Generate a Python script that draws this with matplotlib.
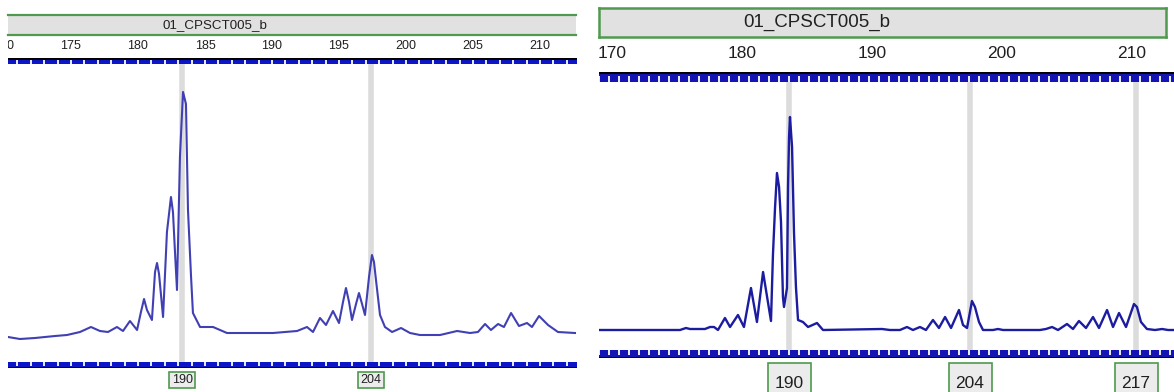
import matplotlib
matplotlib.use('Agg')
import matplotlib.pyplot as plt
import numpy as np
from matplotlib.patches import Rectangle

plt.rcParams['font.family'] = ['Liberation Sans', 'DejaVu Sans']

# ---------------- data ----------------
title = "01_CPSCT005_b"

left_ticks = [170, 175, 180, 185, 190, 195, 200, 205, 210]
right_ticks = [170, 180, 190, 200, 210]

left_size = [170.30, 171.19, 172.31, 173.81, 174.70, 175.67, 176.49, 177.16, 177.76, 178.43,
             178.88, 179.40, 179.93, 180.22, 180.45, 180.67, 181.04, 181.27, 181.42, 181.57,
             181.87, 182.16, 182.46, 182.61, 182.76, 182.91, 183.13, 183.36, 183.58, 183.73,
             183.96, 184.10, 184.63, 185.60, 186.64, 188.36, 190.07, 191.87, 192.61, 193.06,
             193.58, 194.03, 194.55, 195.00, 195.30, 195.52, 195.75, 195.97, 196.27, 196.49,
             196.72, 196.94, 197.24, 197.46, 197.61, 197.76, 198.06, 198.43, 198.96, 199.63,
             200.30, 201.04, 202.54, 203.81, 204.78, 205.37, 205.90, 206.34, 206.87, 207.31,
             207.84, 208.43, 209.03, 209.40, 209.93, 210.60, 211.34, 212.61]
left_rfu = [25, 23, 24, 26, 27, 30, 35, 31, 30, 35,
            31, 41, 32, 50, 63, 52, 42, 90, 99, 88,
            45, 130, 165, 150, 110, 72, 205, 270, 258, 152,
            85, 49, 35, 35, 29, 29, 29, 31, 35, 30,
            44, 37, 51, 39, 60, 74, 60, 42, 58, 69,
            58, 47, 85, 107, 100, 82, 47, 35, 30, 34,
            29, 27, 27, 31, 29, 30, 38, 32, 38, 35,
            49, 36, 39, 35, 46, 37, 30, 29]
left_bins = [183.32, 197.39]
left_bin_labels = ["190", "204"]

right_size = [168.92, 175.23, 175.69, 176.00, 177.15, 177.54, 177.85, 178.15, 178.69, 179.08,
              179.69, 180.15, 180.69, 181.15, 181.62, 182.23, 182.38, 182.54, 182.69, 182.85,
              183.00, 183.15, 183.23, 183.46, 183.54, 183.62, 183.69, 183.85, 184.00, 184.15,
              184.31, 184.69, 185.08, 185.77, 186.23, 190.77, 191.38, 192.15, 192.69, 193.15,
              193.69, 194.15, 194.69, 195.15, 195.62, 196.08, 196.69, 197.00, 197.31, 197.69,
              197.92, 198.23, 198.54, 199.31, 199.69, 200.08, 202.92, 203.38, 203.85, 204.31,
              205.00, 205.46, 205.92, 206.46, 207.00, 207.46, 208.08, 208.54, 209.00, 209.54,
              210.15, 210.38, 210.69, 211.15, 211.77, 212.31, 212.77, 213.23]
right_rfu = [20, 20, 22, 21, 21, 23, 23, 20, 32, 23,
             35, 23, 62, 28, 78, 29, 95, 142, 177, 163,
             128, 53, 43, 62, 163, 213, 233, 203, 117, 63,
             30, 28, 23, 27, 20, 21, 20, 20, 23, 20,
             23, 20, 30, 22, 33, 22, 40, 25, 22, 49,
             43, 28, 20, 20, 21, 20, 20, 21, 23, 20,
             26, 21, 29, 22, 33, 22, 40, 23, 37, 23,
             46, 43, 28, 21, 20, 21, 20, 20]
right_bins = [183.62, 197.54, 210.31]
right_bin_labels = ["190", "204", "217"]

# ---------------- layout helpers ----------------
W, H = 1174, 392
fig = plt.figure(figsize=(W / 100, H / 100), dpi=100)
fig.patch.set_facecolor('white')

GREEN = '#4f9a4f'
GRAYBOX = '#e1e1e1'


def px_axes(x0, y0, x1, y1):
    ax = fig.add_axes([x0 / W, 1 - y1 / H, (x1 - x0) / W, (y1 - y0) / H])
    ax.set_xticks([])
    ax.set_yticks([])
    for s in ax.spines.values():
        s.set_visible(False)
    return ax


def panel(cfg):
    ref, ppu = cfg['ref'], cfg['ppu']
    px0, px1 = cfg['px']

    def xl(a, b):
        return (170 + (a - ref) / ppu, 170 + (b - ref) / ppu)

    # title box
    tx0, ty0, tx1, ty1 = cfg['title_box']
    at = px_axes(tx0, ty0, tx1, ty1)
    at.set_facecolor(GRAYBOX)
    for name, s in at.spines.items():
        if name in cfg['title_spines']:
            s.set_visible(True)
            s.set_color(GREEN)
            s.set_linewidth(cfg['title_lw'])
    at.text((cfg['title_x'] - tx0) / (tx1 - tx0), 0.5, title, transform=at.transAxes,
            ha='center', va='center', fontsize=cfg['title_fs'], color='#202020')

    # size labels row (clipped at the panel edge, as in the reference)
    ly0, ly1 = cfg['label_row']
    al = px_axes(px0, ly0, px1, ly1)
    al.patch.set_alpha(0)
    al.set_xlim(*xl(px0, px1))
    al.set_ylim(0, 1)
    for v in cfg['ticks']:
        t = al.text(v, 0.5, str(v), ha='center', va='center', fontsize=cfg['tick_fs'],
                    color='#202020', clip_on=True)
        t.set_clip_box(al.bbox)

    # blue bin bars
    for (by0, by1), top in ((cfg['top_bar'], True), (cfg['bot_bar'], False)):
        ab = px_axes(px0, by0, px1, by1)
        ab.set_facecolor(cfg['bar_color'])
        ab.set_xlim(*xl(px0, px1))
        ab.set_ylim(0, 1)
        lo, hi = xl(px0, px1)
        marks = np.arange(np.floor(lo), hi, cfg['mark_step'])
        if top:
            ab.vlines(marks, 0.0, 0.6, color='white', lw=1.3)
            ab.axhline(1, color='black', lw=2.2)
        else:
            ab.vlines(marks, 0.4, 1.0, color='white', lw=1.3)
            ab.axhline(0, color='black', lw=2.2)

    # trace
    py0, py1 = cfg['plot']
    ap = px_axes(px0, py0, px1, py1)
    ap.patch.set_alpha(0)
    ap.set_xlim(*xl(px0, px1))
    ap.set_ylim(0, py1 - py0)
    for b in cfg['bins']:
        ap.axvline(b, color='#dcdcdc', lw=cfg['bin_lw'], zorder=0)
    ap.plot(cfg['sizes'], cfg['rfu'], color=cfg['line_color'], lw=cfg['lw'], zorder=2)

    # allele label boxes
    ry0, ry1 = cfg['box_row']
    ar = px_axes(px0, ry0, px1, ry1)
    ar.patch.set_alpha(0)
    ar.set_xlim(*xl(px0, px1))
    ar.set_ylim(0, 1)
    bw = cfg['box_w'] / ppu
    for b, lab in zip(cfg['bins'], cfg['bin_labels']):
        ar.add_patch(Rectangle((b - bw / 2, 0), bw, 1, facecolor='#ececec',
                               edgecolor=GREEN, lw=1.2, clip_on=False))
        ar.text(b, cfg['box_text_y'], lab, ha='center', va='center',
                fontsize=cfg['box_fs'], color='#202020')


panel(dict(ref=4, ppu=13.4, px=(8, 577),
           title_box=(8, 15, 576, 35), title_spines=('top', 'bottom'), title_lw=1.6,
           title_x=215, title_fs=9.6,
           label_row=(37, 55), ticks=left_ticks, tick_fs=9,
           top_bar=(58, 64), bot_bar=(362, 368), bar_color='#0c16c8', mark_step=1.0,
           plot=(64, 362), bins=left_bins, bin_lw=4.0,
           sizes=left_size, rfu=left_rfu, line_color='#4040b4', lw=1.5,
           box_row=(372, 388), box_w=26, bin_labels=left_bin_labels,
           box_fs=9, box_text_y=0.5))

panel(dict(ref=612, ppu=13.0, px=(599, 1174),
           title_box=(599, 8, 1166, 37), title_spines=('top', 'bottom', 'left', 'right'),
           title_lw=1.8, title_x=817, title_fs=13.5,
           label_row=(42, 64), ticks=right_ticks, tick_fs=12.5,
           top_bar=(72, 82), bot_bar=(350, 358), bar_color='#1414b4', mark_step=0.77,
           plot=(82, 350), bins=right_bins, bin_lw=4.0,
           sizes=right_size, rfu=right_rfu, line_color='#1c1ca0', lw=1.7,
           box_row=(363, 398), box_w=43, bin_labels=right_bin_labels,
           box_fs=12.5, box_text_y=0.4))

fig.savefig('out.png', dpi=100, facecolor='white')
